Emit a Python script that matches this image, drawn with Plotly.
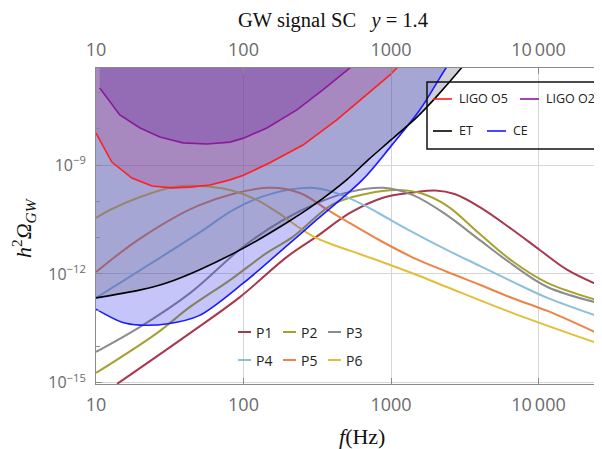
import numpy as np
import plotly.graph_objects as go

# ---------------- data (log10 of h^2 Omega_GW) ----------------
# detector sensitivity curves
ligo_o2_f = [10.6, 14.5, 19.9, 27.1, 38.9, 56.6, 81, 100, 144, 230, 345, 527, 700]
ligo_o2_log = [-6.88, -7.62, -7.98, -8.23, -8.39, -8.42, -8.37, -8.26, -7.98, -7.48, -6.93, -6.33, -5.92]

ligo_o5_f = [10, 12.8, 17.5, 24.0, 32.8, 43.4, 59.3, 81, 100, 151, 253, 429, 644, 984, 1095, 1300]
ligo_o5_log = [-8.12, -8.92, -9.36, -9.58, -9.63, -9.61, -9.55, -9.41, -9.28, -8.94, -8.45, -7.76, -7.15, -6.52, -6.33, -5.90]

et_f = [10, 20, 30, 50, 100, 200, 300, 500, 700, 1000, 1500, 2000, 3000, 4000]
et_log = [-12.66, -12.44, -12.25, -11.89, -11.29, -10.57, -10.10, -9.41, -8.86, -8.31, -7.68, -7.15, -6.33, -5.70]

ce_f = [10, 15, 20, 30, 50, 100, 200, 315, 640, 1000, 1570, 2360, 3000]
ce_log = [-12.97, -13.33, -13.41, -13.38, -13.15, -12.25, -11.20, -10.50, -9.41, -8.48, -7.48, -6.33, -5.75]

# signal curves P1..P6
p1_f = [13.9, 43.4, 94.5, 197, 316, 527, 883, 1410, 2000, 2700, 4000, 6700, 10200, 15700, 27200]
p1_log = [-15.03, -13.63, -12.64, -11.53, -10.96, -10.32, -9.90, -9.76, -9.70, -9.80, -10.16, -10.79, -11.34, -11.89, -12.36]

p2_f = [10, 25.9, 43.4, 81, 144, 216, 404, 686, 1100, 1600, 2390, 4000, 6700, 11500, 27200]
p2_log = [-14.73, -13.63, -12.91, -12.17, -11.42, -10.98, -10.08, -9.79, -9.69, -9.78, -10.12, -10.90, -11.66, -12.25, -12.77]

p3_f = [10, 19.9, 43.4, 99, 185, 315, 527, 883, 1410, 2390, 4000, 6700, 11500, 27200]
p3_log = [-14.15, -13.46, -12.53, -11.26, -10.52, -10.05, -9.74, -9.63, -9.83, -10.38, -11.07, -11.75, -12.36, -12.83]

p4_f = [10, 50.8, 84.7, 144, 282, 403, 616, 843, 1400, 2390, 4000, 6700, 11500, 27200]
p4_log = [-12.66, -10.85, -10.24, -9.83, -9.63, -9.74, -10.05, -10.35, -10.85, -11.34, -11.78, -12.22, -12.66, -13.21]

p5_f = [10, 20, 50.8, 144, 241, 366, 500, 843, 1410, 2390, 4000, 6700, 11500, 27200]
p5_log = [-11.95, -11.02, -10.10, -9.63, -9.77, -10.22, -10.55, -11.08, -11.55, -11.94, -12.30, -12.67, -13.02, -13.70]

p6_f = [10, 12.4, 19.9, 33.2, 50.8, 81, 123, 169, 230, 300, 400, 527, 843, 1500, 2390, 6700, 27200]
p6_log = [-10.46, -10.24, -9.88, -9.61, -9.58, -9.69, -9.96, -10.30, -10.68, -10.98, -11.19, -11.36, -11.65, -12.03, -12.36, -13.08, -13.96]

x_tickvals = [10, 100, 1000, 10000]
x_ticktext = ["10", "100", "1000", "10\u2009000"]
y_tickvals = [1e-15, 1e-12, 1e-9]
y_ticktext = ["10<sup>\u221215</sup>", "10<sup>\u221212</sup>", "10<sup>\u22129</sup>"]
y_minor = [1e-14, 1e-13, 1e-11, 1e-10, 1e-8, 1e-7]

signals = [
    ("P1", p1_f, p1_log, "#a8384e"),
    ("P2", p2_f, p2_log, "#a5a232"),
    ("P3", p3_f, p3_log, "#8c8c8c"),
    ("P4", p4_f, p4_log, "#8cc0dc"),
    ("P5", p5_f, p5_log, "#ec8447"),
    ("P6", p6_f, p6_log, "#e2bf3a"),
]
detectors = [
    # name, f, log, line colour, fill colour, shape
    ("CE", ce_f, ce_log, "#1a1aff", "rgba(40,40,235,0.27)", "spline"),
    ("ET", et_f, et_log, "#000000", "rgba(95,95,130,0.30)", "spline"),
    ("LIGO O5", ligo_o5_f, ligo_o5_log, "#ff1f1f", "rgba(170,80,150,0.33)", "linear"),
    ("LIGO O2", ligo_o2_f, ligo_o2_log, "#8a1a9a", "rgba(110,50,160,0.33)", "linear"),
]

def lin(v):
    return np.power(10.0, np.asarray(v, dtype=float))

fig = go.Figure()

# signal lines (below the translucent sensitivity regions)
for name, f, lg, col in signals:
    fig.add_trace(go.Scatter(x=f, y=lin(lg), mode="lines", name=name,
                             line=dict(color=col, width=2, shape="spline", smoothing=1.0),
                             hoverinfo="skip", showlegend=False))

# sensitivity regions: fill from each curve up to the top
for name, f, lg, col, fcol, shp in detectors:
    fig.add_trace(go.Scatter(x=[f[0], f[-1]], y=[1e-3, 1e-3], mode="lines",
                             line=dict(width=0, color="rgba(0,0,0,0)"),
                             hoverinfo="skip", showlegend=False))
    fig.add_trace(go.Scatter(x=f, y=lin(lg), mode="lines", fill="tonexty",
                             fillcolor=fcol, line=dict(width=0, color=col, shape=shp, smoothing=0.9),
                             hoverinfo="skip", showlegend=False))

# sensitivity curves on top
for name, f, lg, col, fcol, shp in detectors:
    fig.add_trace(go.Scatter(x=f, y=lin(lg), mode="lines", name=name,
                             line=dict(color=col, width=1.6, shape=shp, smoothing=0.9),
                             hoverinfo="skip", showlegend=False))

# invisible trace so the top axis is drawn
fig.add_trace(go.Scatter(x=[10, 10000], y=[1e-15, 1e-15], xaxis="x2", mode="markers",
                         marker=dict(opacity=0), hoverinfo="skip", showlegend=False))

# ---------------- layout ----------------
# the page body has an 8 px margin, so the figure is 8 px smaller and offset
OFF = 8
W, H = 602 - OFF, 449 - OFF
PL, PR, PT, PB = 96, 602, 68, 384          # plot area in page pixels
L, R, T, B = PL - OFF, 602 - PR, PT - OFF, 449 - PB
pw, ph = PR - PL, PB - PT

def px(xp):
    return (xp - PL) / pw

def py(yp):
    return (PB - yp) / ph

tickfont_x = dict(family="Open Sans", size=18, color="#6a6a6a")
axis_common = dict(type="log", range=[1, 4.4305], tickvals=x_tickvals, ticktext=x_ticktext,
                   ticks="inside", ticklen=6, tickcolor="#8a8a8a", showline=True,
                   linecolor="#8a8a8a", linewidth=1, zeroline=False, tickfont=tickfont_x,
                   automargin=False)

fig.update_layout(
    width=W, height=H, margin=dict(l=L, r=R, t=T, b=B, pad=0, autoexpand=False),
    paper_bgcolor="white", plot_bgcolor="white", showlegend=False,
    title=dict(text="GW signal SC&nbsp;&nbsp;&nbsp;<i>y</i> = 1.4", x=(333 - OFF) / W, xanchor="center",
               y=1 - (20 - OFF) / H, yanchor="middle",
               font=dict(family="Liberation Serif", size=20.5, color="#111")),
    xaxis=dict(**axis_common, showgrid=True, gridcolor="#d6d6d6", gridwidth=1, ticklabelstandoff=4),
    xaxis2=dict(**axis_common, overlaying="x", side="top", matches="x", showgrid=False, ticklabelstandoff=4),
    yaxis=dict(type="log", range=[-15.033, -6.328], tickvals=y_tickvals, ticktext=y_ticktext,
               ticks="inside", ticklen=6, tickcolor="#8a8a8a", showline=True, linecolor="#8a8a8a",
               linewidth=1, zeroline=False, showgrid=True, gridcolor="#d6d6d6", gridwidth=1,
               tickfont=dict(family="Open Sans", size=16, color="#6a6a6a"), ticklabelstandoff=6,
               automargin=False,
               minor=dict(tickvals=y_minor, ticks="inside", ticklen=4, tickcolor="#8a8a8a", showgrid=False)),
)

annotations = [
    dict(text="<i>f</i>(Hz)", x=px(362), y=py(436), xref="paper", yref="paper", showarrow=False,
         xanchor="center", yanchor="middle", font=dict(family="Liberation Serif", size=22, color="#111")),
    dict(text="<i>h</i><sup>2</sup><i>\u03a9</i><sub><i>GW</i></sub>", x=px(23), y=py(228), xref="paper", yref="paper",
         showarrow=False, textangle=-90, xanchor="center", yanchor="middle",
         font=dict(family="Liberation Serif", size=22, color="#111")),
]
shapes = [
    dict(type="rect", xref="paper", yref="paper", x0=px(427), x1=px(640), y0=py(82), y1=py(149),
         line=dict(color="#111", width=1.5), fillcolor="rgba(0,0,0,0)", layer="above"),
]

# detector legend (boxed, top right)
det_legend = [("LIGO O5", "#ff1f1f", 433, 99), ("LIGO O2", "#8a1a9a", 520, 99),
              ("ET", "#000000", 433, 131), ("CE", "#1a1aff", 487, 131)]
for name, col, x0, yy in det_legend:
    shapes.append(dict(type="line", xref="paper", yref="paper", x0=px(x0), x1=px(x0 + 19),
                       y0=py(yy), y1=py(yy), line=dict(color=col, width=1.6), layer="above"))
    annotations.append(dict(text=name, x=px(x0 + 24), y=py(yy), xref="paper", yref="paper",
                            showarrow=False, xanchor="left", yanchor="middle",
                            font=dict(family="Open Sans", size=12.5, color="#222")))

# signal legend (bottom centre)
sig_pos = [(238, 332), (283, 332), (328, 332), (238, 360), (283, 360), (328, 360)]
for (name, f, lg, col), (x0, yy) in zip(signals, sig_pos):
    shapes.append(dict(type="line", xref="paper", yref="paper", x0=px(x0), x1=px(x0 + 13),
                       y0=py(yy), y1=py(yy), line=dict(color=col, width=2), layer="above"))
    annotations.append(dict(text=name, x=px(x0 + 16), y=py(yy), xref="paper", yref="paper",
                            showarrow=False, xanchor="left", yanchor="middle",
                            font=dict(family="Open Sans", size=14, color="#222")))

fig.update_layout(annotations=annotations, shapes=shapes)
fig.write_html("out.html")
